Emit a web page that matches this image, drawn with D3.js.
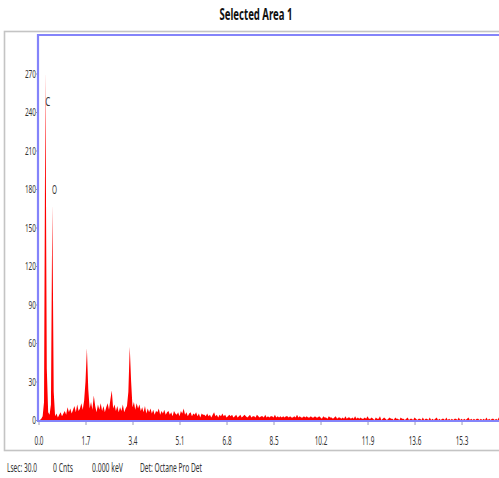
<!DOCTYPE html>
<html>
<head>
<meta charset="utf-8">
<script src="https://cdn.jsdelivr.net/npm/d3@7/dist/d3.min.js"></script>
<style>
  html, body { margin: 0; padding: 0; background: #fff; overflow: hidden; }
  svg { display: block; font-family: "Noto Sans", "DejaVu Sans", sans-serif; }
</style>
</head>
<body>
<svg id="chart" width="499" height="478"></svg>
<script>
// EDS spectrum, channel width 0.05 keV, first channel at 0.00 keV.
const KEV_STEP = 0.05;
const counts = [
  0, 0, 1, 3, 14, 272, 40, 6, 4, 12, 168, 22, 3, 5, 2, 4, 6, 3, 5, 7,       // 0.00
  4, 10, 6, 9, 5, 8, 11, 6, 12, 7, 9, 13, 8, 15, 30, 56, 24, 9, 14, 8,      // 1.00
  19, 11, 6, 12, 8, 13, 7, 11, 6, 10, 13, 8, 16, 23, 9, 12, 7, 11, 6, 10,   // 2.00
  7, 12, 6, 9, 11, 22, 57, 30, 10, 14, 8, 13, 9, 12, 7, 10, 6, 11, 5, 9,    // 3.00
  6, 9, 5, 8, 4, 7, 6, 9, 4, 7, 5, 8, 4, 6, 7, 4, 6, 3, 7, 5,               // 4.00
  4, 6, 3, 7, 5, 9, 4, 6, 3, 5, 6, 3, 5, 4, 6, 3, 5, 2, 5, 4,               // 5.00
  4, 3, 5, 3, 4, 2, 4, 6, 3, 4, 2, 4, 3, 5, 3, 4, 2, 3, 4, 3,               // 6.00
  4, 2, 3, 4, 2, 3, 4, 2, 3, 4, 3, 2, 3, 4, 2, 3, 3, 2, 4, 3,               // 7.00
  2, 3, 3, 2, 4, 2, 3, 2, 3, 3, 2, 4, 2, 3, 2, 3, 2, 3, 2, 3,               // 8.00
  3, 2, 3, 2, 2, 3, 2, 4, 2, 3, 2, 2, 3, 2, 3, 2, 2, 3, 2, 2,               // 9.00
  3, 2, 2, 3, 2, 1, 3, 2, 2, 1, 3, 2, 2, 1, 2, 3, 1, 2, 2, 1,               // 10.00
  2, 1, 3, 1, 2, 2, 1, 2, 1, 3, 1, 2, 1, 2, 1, 1, 2, 1, 3, 1,               // 11.00
  1, 2, 1, 0, 2, 1, 1, 3, 0, 1, 2, 1, 0, 1, 2, 1, 1, 0, 2, 1,               // 12.00
  1, 0, 2, 1, 1, 0, 1, 2, 0, 1, 1, 0, 2, 1, 0, 1, 1, 0, 2, 0,               // 13.00
  1, 1, 0, 2, 0, 1, 0, 1, 2, 0, 1, 0, 1, 1, 0, 2, 0, 1, 0, 1,               // 14.00
  0, 1, 1, 0, 2, 0, 1, 0, 1, 0, 1, 2, 0, 1, 0, 1, 0, 1, 1, 0,               // 15.00
  1, 0, 1, 0, 2, 0, 1, 0, 1, 1, 0, 1, 0, 2, 0, 1, 0, 1, 0, 1,               // 16.00
  0
];

const xTickLabels = ['0.0', '1.7', '3.4', '5.1', '6.8', '8.5', '10.2', '11.9', '13.6', '15.3'];
const yTickLabels = ['0', '30', '60', '90', '120', '150', '180', '210', '240', '270'];

const elements = ['C', 'O'];
const elementKev = [0.277, 0.525];
const elementLabelCounts = [245, 176];

const title = 'Selected Area 1';
const footerItems = ['Lsec: 30.0', '0 Cnts', '0.000 keV', 'Det: Octane Pro Det'];

// ------------------------------------------------------------------
// Layout
// ------------------------------------------------------------------
const PLOT = { left: 38.5, top: 35, bottom: 420, right: 591.5 };
const FOOTER_X = [7, 53, 92, 140];
const FOOTER_W = [30, 20, 31, 62];
const BLUE = '#8484fa';
const TEXT = '#333';

// condensed look: fixed width per character
const squeeze = s => s.replace(/\./g, '').length * 3.7 + (s.match(/\./g) || []).length * 1.6;

// squeeze text horizontally to a target width, keeping its anchor point fixed
function condense(sel, widthFn) {
  sel.each(function (d, i) {
    const natural = this.getComputedTextLength();
    if (!natural) return;
    const s = widthFn(d, i) / natural;
    const x0 = +this.getAttribute('x') || 0;
    d3.select(this).attr('transform', `translate(${x0 * (1 - s)},0) scale(${s},1)`);
  });
}

const svg = d3.select('#chart');

const x = d3.scaleLinear().domain([0, 20]).range([PLOT.left, PLOT.right]);
const y = d3.scaleLinear().domain([0, 300]).range([PLOT.bottom, PLOT.top]);

// Title
svg.append('text')
  .attr('x', 256).attr('y', 20)
  .attr('text-anchor', 'middle')
  .attr('font-size', 16).attr('font-weight', 'bold')
  .attr('fill', '#111')
  .text(title)
  .call(condense, () => 73);

// Outer grey frame
svg.append('rect')
  .attr('x', 4.5).attr('y', 31.5)
  .attr('width', 640).attr('height', 419)
  .attr('fill', 'none')
  .attr('stroke', '#c4c4c4').attr('stroke-width', 1.6);

// Spectrum
svg.append('clipPath').attr('id', 'plot-clip')
  .append('rect')
  .attr('x', PLOT.left).attr('y', PLOT.top)
  .attr('width', PLOT.right - PLOT.left).attr('height', PLOT.bottom - PLOT.top);

const area = d3.area()
  .x((d, i) => x(i * KEV_STEP))
  .y0(y(0))
  .y1(d => y(d));

svg.append('path')
  .datum(counts)
  .attr('clip-path', 'url(#plot-clip)')
  .attr('fill', '#ff0000')
  .attr('d', area);

// Blue plot border (top, left, bottom)
svg.append('path')
  .attr('d', `M${PLOT.right},${PLOT.top}H${PLOT.left - 0.5}V${PLOT.bottom + 1}H${PLOT.right}`)
  .attr('fill', 'none')
  .attr('stroke', BLUE).attr('stroke-width', 2.2);

// X axis
const xAxis = svg.append('g')
  .attr('transform', `translate(0,${PLOT.bottom + 2})`)
  .call(d3.axisBottom(x)
    .tickValues(xTickLabels.map(Number))
    .tickFormat((d, i) => xTickLabels[i])
    .tickSize(3)
    .tickSizeOuter(0));
xAxis.select('.domain').remove();
xAxis.selectAll('line').attr('stroke', '#9a9ab8');
xAxis.selectAll('text')
  .attr('y', 14)
  .attr('font-size', 12)
  .attr('font-family', '"Noto Sans", sans-serif')
  .attr('fill', TEXT)
  .call(condense, function (d, i) { return squeeze(xTickLabels[i]); });

// Y axis
const yAxis = svg.append('g')
  .attr('transform', `translate(${PLOT.left - 1.5},0)`)
  .call(d3.axisLeft(y)
    .tickValues(yTickLabels.map(Number))
    .tickFormat((d, i) => yTickLabels[i])
    .tickSize(1)
    .tickSizeOuter(0));
yAxis.select('.domain').remove();
yAxis.selectAll('line').attr('stroke', '#999');
yAxis.selectAll('text')
  .attr('x', -1)
  .attr('font-size', 11.5)
  .attr('font-family', '"Noto Sans", sans-serif')
  .attr('fill', TEXT)
  .call(condense, (d, i) => squeeze(yTickLabels[i]));

// Element markers
svg.append('g')
  .selectAll('text')
  .data(elements)
  .join('text')
  .attr('x', (d, i) => x(elementKev[i]) + 1.5)
  .attr('y', (d, i) => y(elementLabelCounts[i]))
  .attr('text-anchor', 'middle')
  .attr('font-size', 13)
  .attr('fill', TEXT)
  .text(d => d)
  .call(condense, () => 5);

// Footer status line
svg.append('g')
  .selectAll('text')
  .data(footerItems)
  .join('text')
  .attr('x', (d, i) => FOOTER_X[i])
  .attr('y', 472)
  .attr('font-size', 12)
  .attr('fill', TEXT)
  .text(d => d)
  .call(condense, (d, i) => FOOTER_W[i]);
</script>
</body>
</html>
